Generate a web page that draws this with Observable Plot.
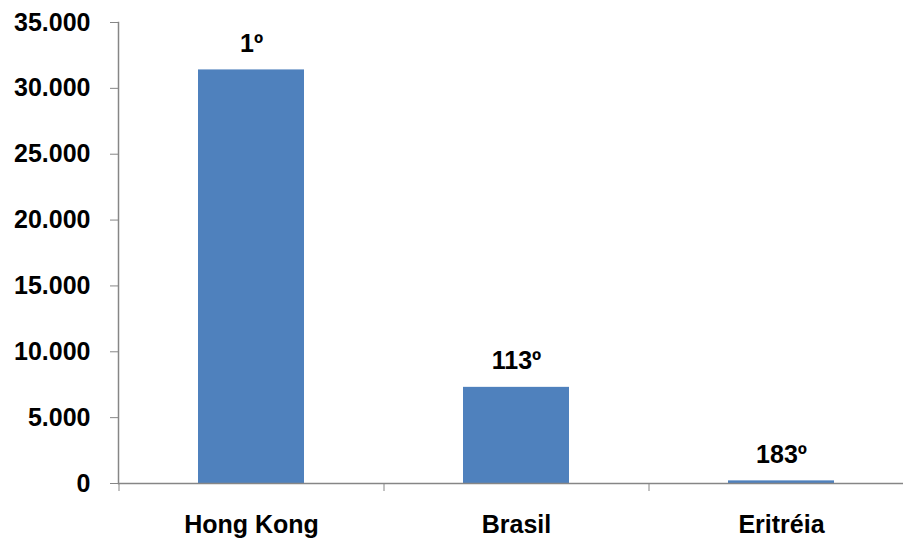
<!DOCTYPE html>
<html>
<head>
<meta charset="utf-8">
<script src="https://cdn.jsdelivr.net/npm/d3@7"></script>
<script src="https://cdn.jsdelivr.net/npm/@observablehq/plot@0.6"></script>
<style>
  html, body { margin: 0; padding: 0; background: #fff; }
  #chart svg { display: block; }
</style>
</head>
<body>
<div id="chart"></div>
<script>
const countries = ["Hong Kong", "Brasil", "Eritréia"];
const values = [31400, 7300, 200];
const ranks = ["1º", "113º", "183º"];
const yTicks = [0, 5000, 10000, 15000, 20000, 25000, 30000, 35000];

const data = countries.map((c, i) => ({country: c, value: values[i], rank: ranks[i]}));
const fmt = d => d3.format(",")(d).replace(/,/g, ".");
const axisColor = "#868686";
const fs = 25;

const chart = Plot.plot({
  width: 903,
  height: 541,
  marginTop: 22,
  marginBottom: 58,
  marginLeft: 118,
  marginRight: 0,
  style: {fontFamily: "'Liberation Sans', Arial, sans-serif", fontWeight: "bold", fontSize: fs + "px", color: "#000", background: "#fff"},
  x: {domain: countries, range: [118, 913], paddingInner: 0.6, paddingOuter: 0.3},
  y: {domain: [0, 35000]},
  marks: [
    Plot.barY(data, {x: "country", y: "value", fill: "#4F81BD"}),
    Plot.text(data, {x: "country", y: "value", text: "rank", dy: -26, fontSize: fs, fontWeight: "bold", fill: "#000"}),
    Plot.ruleY([0], {stroke: axisColor, strokeWidth: 1.5}),
    Plot.frame({anchor: "left", stroke: axisColor, strokeWidth: 1.5}),
    Plot.axisY({ticks: yTicks, tickFormat: fmt, tickSize: 8, tickPadding: 20, stroke: axisColor, fontSize: fs, fontWeight: "bold", fill: "#000", label: null}),
    Plot.axisX({text: null, tickSize: 8, dx: -132.5, stroke: axisColor, label: null}),
    Plot.axisX({tickSize: 0, tickPadding: 32, fontSize: fs, fontWeight: "bold", fill: "#000", label: null})
  ]
});
document.getElementById("chart").appendChild(chart);
</script>
</body>
</html>
